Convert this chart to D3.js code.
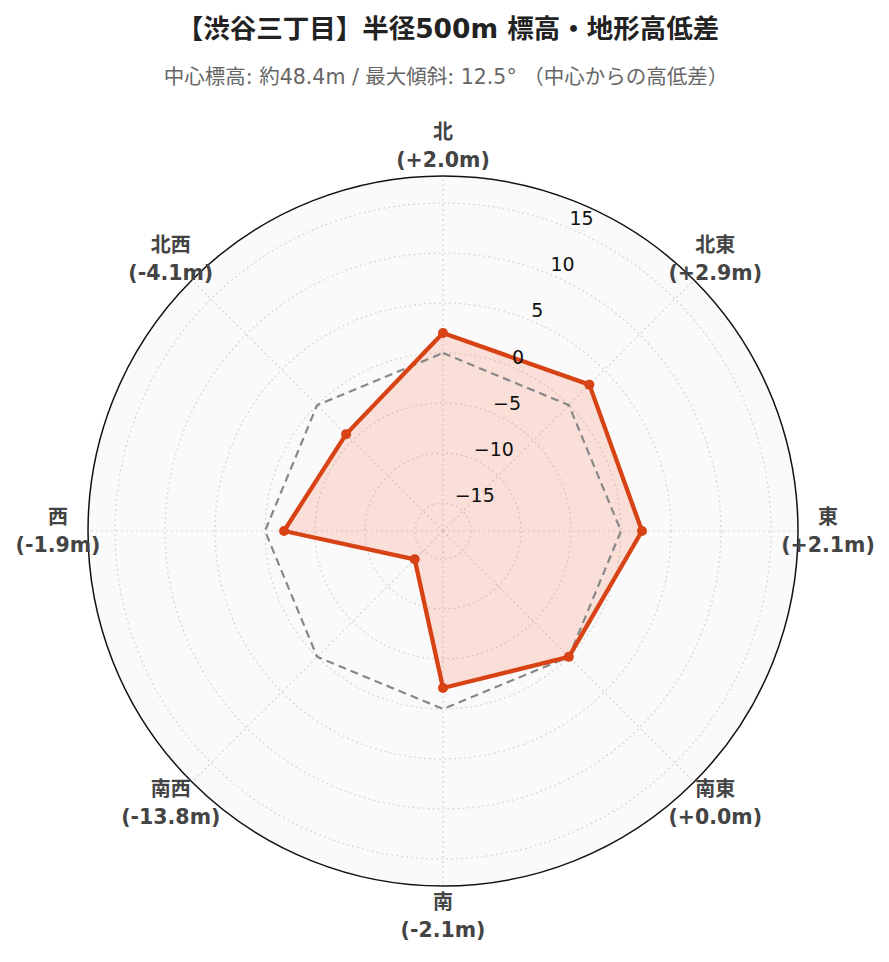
<!DOCTYPE html>
<html>
<head>
<meta charset="utf-8">
<script src="https://cdn.jsdelivr.net/npm/d3@7"></script>
<style>
  html, body { margin: 0; padding: 0; background: #ffffff; }
  svg { display: block; }
</style>
</head>
<body>
<script>
// ---- data ----
const directions = ["北", "北東", "東", "南東", "南", "南西", "西", "北西"];
const elevationDiff = [2.0, 2.9, 2.1, 0.0, -2.1, -13.8, -1.9, -4.1];
const baseline = [0, 0, 0, 0, 0, 0, 0, 0];
const radialTicks = [-15, -10, -5, 0, 5, 10, 15];
const radialRange = [-17.8, 17.7];
const titleText = "【渋谷三丁目】半径500m 標高・地形高低差";
const subtitleText = "中心標高: 約48.4m / 最大傾斜: 12.5° （中心からの高低差）";

// ---- layout ----
const W = 889, H = 962;
const cx = 443, cy = 531, R = 355;
const cjk = "'DejaVu Sans', 'Noto Sans CJK JP', sans-serif";

const svg = d3.select("body").append("svg").attr("width", W).attr("height", H);

svg.append("text")
  .attr("x", 448).attr("y", 28)
  .attr("text-anchor", "middle").attr("dominant-baseline", "central")
  .style("font-family", cjk).style("font-weight", "bold").style("font-size", "26.5px")
  .attr("fill", "#222")
  .text(titleText);

svg.append("text")
  .attr("x", 446).attr("y", 77)
  .attr("text-anchor", "middle").attr("dominant-baseline", "central")
  .style("font-family", cjk).style("font-size", "20.5px")
  .attr("fill", "#666")
  .text(subtitleText);

const rScale = d3.scaleLinear().domain(radialRange).range([0, R]);
const angle = d3.scalePoint().domain(directions).range([0, 2 * Math.PI * 7 / 8]);

const g = svg.append("g").attr("transform", `translate(${cx},${cy})`);

// background disc
g.append("circle").attr("r", R).attr("fill", "#fafafa");

// grid circles
g.selectAll("circle.grid").data(radialTicks).enter().append("circle")
  .attr("class", "grid")
  .attr("r", d => rScale(d))
  .attr("fill", "none")
  .attr("stroke", "#d6d6d6").attr("stroke-width", 1.2)
  .attr("stroke-dasharray", "2,3");

// spokes
g.selectAll("line.spoke").data(directions).enter().append("line")
  .attr("class", "spoke")
  .attr("x1", 0).attr("y1", 0)
  .attr("x2", d => R * Math.sin(angle(d)))
  .attr("y2", d => -R * Math.cos(angle(d)))
  .attr("stroke", "#d6d6d6").attr("stroke-width", 1.2)
  .attr("stroke-dasharray", "2,3");

// series line generator
const radial = d3.lineRadial()
  .angle((d, i) => angle(directions[i]))
  .radius(d => rScale(d))
  .curve(d3.curveLinearClosed);

// fill
g.append("path")
  .attr("d", radial(elevationDiff))
  .attr("fill", "rgba(246,90,50,0.17)")
  .attr("stroke", "none");

// baseline dashed
g.append("path")
  .attr("d", radial(baseline))
  .attr("fill", "none")
  .attr("stroke", "#888888").attr("stroke-width", 2.2)
  .attr("stroke-dasharray", "8,5");

// red line
g.append("path")
  .attr("d", radial(elevationDiff))
  .attr("fill", "none")
  .attr("stroke", "#D84315").attr("stroke-width", 4.3)
  .attr("stroke-linejoin", "round");

// markers
g.selectAll("circle.pt").data(elevationDiff).enter().append("circle")
  .attr("class", "pt")
  .attr("cx", (d, i) => rScale(d) * Math.sin(angle(directions[i])))
  .attr("cy", (d, i) => -rScale(d) * Math.cos(angle(directions[i])))
  .attr("r", 5)
  .attr("fill", "#D84315");

// outer circle
g.append("circle").attr("r", R).attr("fill", "none")
  .attr("stroke", "#111").attr("stroke-width", 1.5);

// radial tick labels at 22.5°
const tickAng = Math.PI / 8;
g.selectAll("text.rtick").data(radialTicks).enter().append("text")
  .attr("class", "rtick")
  .attr("x", d => rScale(d) * Math.sin(tickAng) + 1)
  .attr("y", d => -rScale(d) * Math.cos(tickAng) - 10)
  .attr("dominant-baseline", "central")
  .style("font-family", "'DejaVu Sans', sans-serif").style("font-size", "19px")
  .attr("fill", "#111")
  .text(d => d < 0 ? "\u2212" + Math.abs(d) : String(d));

// angular labels
const fmt = v => (v >= 0 ? "+" : "-") + Math.abs(v).toFixed(1);
const lab = g.selectAll("g.alab").data(directions).enter().append("g")
  .attr("class", "alab")
  .attr("transform", d => {
    const a = angle(d), rr = R + 30;
    return `translate(${rr * Math.sin(a)},${-rr * Math.cos(a)})`;
  });
lab.append("text")
  .attr("y", -14).attr("text-anchor", "middle").attr("dominant-baseline", "central")
  .style("font-family", cjk).style("font-weight", "bold").style("font-size", "20px")
  .attr("fill", "#444")
  .text(d => d);
lab.append("text")
  .attr("y", 14).attr("text-anchor", "middle").attr("dominant-baseline", "central")
  .style("font-family", cjk).style("font-weight", "bold").style("font-size", "20.5px")
  .attr("fill", "#444")
  .text((d, i) => `(${fmt(elevationDiff[i])}m)`);
</script>
</body>
</html>
